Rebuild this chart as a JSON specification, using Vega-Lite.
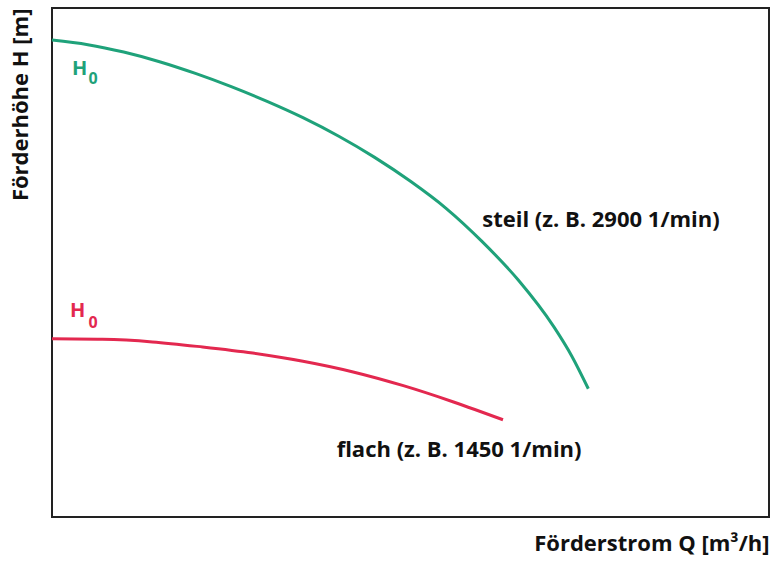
{
  "$schema": "https://vega.github.io/schema/vega-lite/v6.json",
  "autosize": {"type": "none"},
  "padding": {"left": 52, "top": 8, "right": 2, "bottom": 46},
  "width": 717,
  "height": 509,
  "background": "white",
  "config": {
    "view": {"stroke": "#222222", "strokeWidth": 2},
    "font": "Open Sans"
  },
  "datasets": {
    "curves": [
      {"series": "steil", "Q": 0, "H": 93.7},
      {"series": "steil", "Q": 5, "H": 92.8},
      {"series": "steil", "Q": 10, "H": 91.35},
      {"series": "steil", "Q": 15, "H": 89.45},
      {"series": "steil", "Q": 20, "H": 87.15},
      {"series": "steil", "Q": 25, "H": 84.55},
      {"series": "steil", "Q": 30, "H": 81.65},
      {"series": "steil", "Q": 35, "H": 78.45},
      {"series": "steil", "Q": 40, "H": 74.8},
      {"series": "steil", "Q": 45, "H": 70.65},
      {"series": "steil", "Q": 50, "H": 65.95},
      {"series": "steil", "Q": 55, "H": 60.6},
      {"series": "steil", "Q": 60, "H": 54.1},
      {"series": "steil", "Q": 65, "H": 46.6},
      {"series": "steil", "Q": 70, "H": 37.35},
      {"series": "steil", "Q": 72.5, "H": 31.6},
      {"series": "steil", "Q": 74.8, "H": 25.2},
      {"series": "flach", "Q": 0, "H": 35.0},
      {"series": "flach", "Q": 7, "H": 34.9},
      {"series": "flach", "Q": 14, "H": 34.4},
      {"series": "flach", "Q": 21, "H": 33.4},
      {"series": "flach", "Q": 28, "H": 32.2},
      {"series": "flach", "Q": 35, "H": 30.6},
      {"series": "flach", "Q": 42, "H": 28.5},
      {"series": "flach", "Q": 49, "H": 25.8},
      {"series": "flach", "Q": 56, "H": 22.6},
      {"series": "flach", "Q": 62.9, "H": 19.1}
    ],
    "hlabels": [
      {"series": "steil", "Q": 2.8, "H": 86.8, "t": "H"},
      {"series": "flach", "Q": 2.5, "H": 39.3, "t": "H"}
    ],
    "sublabels": [
      {"series": "steil", "Q": 5.1, "H": 85.1, "t": "0"},
      {"series": "flach", "Q": 5.1, "H": 37.2, "t": "0"}
    ],
    "desc": [
      {"Q": 60.0, "H": 57.0, "t": "steil (z. B. 2900 1/min)"},
      {"Q": 39.7, "H": 11.8, "t": "flach (z. B. 1450 1/min)"}
    ]
  },
  "encoding": {
    "x": {
      "field": "Q", "type": "quantitative",
      "scale": {"domain": [0, 100], "nice": false, "zero": false},
      "axis": {
        "title": "Förderstrom Q  [m³/h]",
        "titleAnchor": "end", "titleFontSize": 22, "titleFont": "Open Sans",
        "titleFontWeight": "bold", "titleColor": "#111111", "titlePadding": 16,
        "labels": false, "ticks": false, "domain": false, "grid": false
      }
    },
    "y": {
      "field": "H", "type": "quantitative",
      "scale": {"domain": [0, 100], "nice": false, "zero": false},
      "axis": {
        "title": "Förderhöhe H [m]",
        "titleAnchor": "end", "titleFontSize": 22, "titleFont": "Open Sans",
        "titleFontWeight": "bold", "titleColor": "#111111", "titlePadding": 20,
        "labels": false, "ticks": false, "domain": false, "grid": false
      }
    },
    "color": {
      "field": "series", "type": "nominal",
      "scale": {"domain": ["steil", "flach"], "range": ["#1fa27a", "#e3284f"]},
      "legend": null
    }
  },
  "layer": [
    {
      "data": {"name": "curves"},
      "mark": {"type": "line", "interpolate": "monotone", "strokeWidth": 3}
    },
    {
      "data": {"name": "hlabels"},
      "mark": {"type": "text", "align": "left", "baseline": "alphabetic", "fontSize": 20, "fontWeight": "bold", "font": "Open Sans"},
      "encoding": {"text": {"field": "t"}}
    },
    {
      "data": {"name": "sublabels"},
      "mark": {"type": "text", "align": "left", "baseline": "alphabetic", "fontSize": 16, "fontWeight": "bold", "font": "Open Sans"},
      "encoding": {"text": {"field": "t"}}
    },
    {
      "data": {"name": "desc"},
      "mark": {"type": "text", "align": "left", "baseline": "alphabetic", "fontSize": 22, "fontWeight": "bold", "font": "Open Sans"},
      "encoding": {"text": {"field": "t"}, "color": {"value": "#111111"}}
    }
  ]
}
